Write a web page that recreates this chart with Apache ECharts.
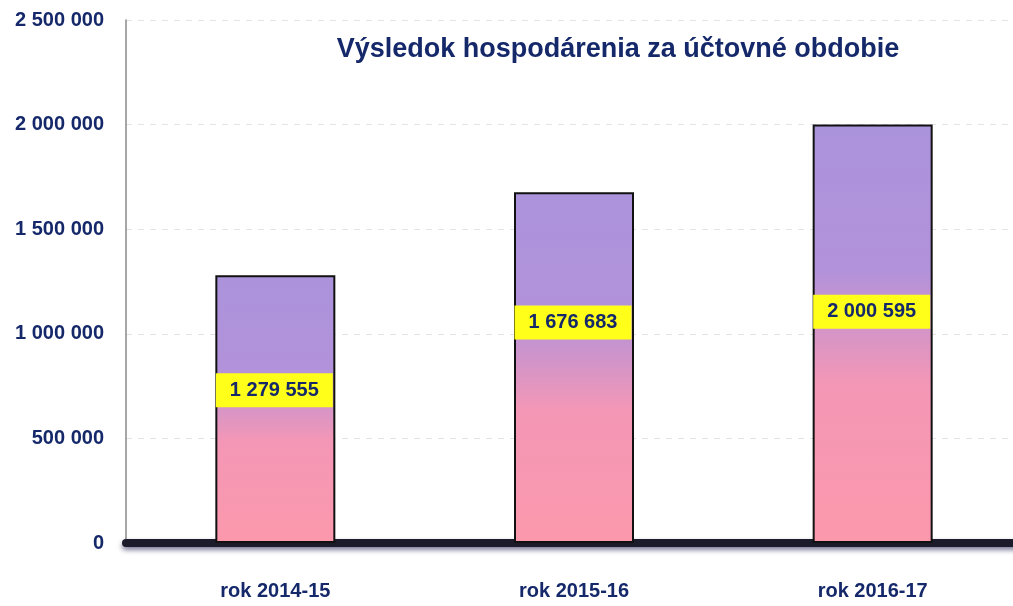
<!DOCTYPE html>
<html>
<head>
<meta charset="utf-8">
<script src="https://cdn.jsdelivr.net/npm/echarts@6/dist/echarts.min.js"></script>
<style>
  html, body { margin: 0; padding: 0; background: #fff; overflow: hidden; }
  #chart { width: 1022px; height: 606px; }
</style>
</head>
<body>
<div id="chart"></div>
<script>
const categories = ["rok 2014-15", "rok 2015-16", "rok 2016-17"];
const values = [1279555, 1676683, 2000595];
const yTicks = [0, 500000, 1000000, 1500000, 2000000, 2500000];
const title = "Výsledok hospodárenia za účtovné obdobie";

const navy = "#14286a";
// where the yellow value boxes sit relative to bar centre (as in the original)
const labelShift = [[-1, -19], [-1, -45], [-1, -22]];

function fmt(v) {
  return String(v).replace(/\B(?=(\d{3})+(?!\d))/g, " ");
}

const chart = echarts.init(document.getElementById("chart"));

chart.setOption({
  animation: false,
  title: {
    text: title,
    left: 613,
    top: 31,
    textAlign: "center",
    textStyle: {
      fontFamily: "Liberation Sans, Arial, sans-serif",
      fontSize: 27,
      fontWeight: "bold",
      color: navy
    }
  },
  grid: {
    left: 126,
    right: 0,
    top: 20,
    bottom: 63
  },
  xAxis: {
    type: "category",
    data: categories,
    offset: 4,
    axisTick: { show: false },
    axisLine: {
      lineStyle: {
        color: "#1b1b2b",
        width: 8,
        shadowColor: "rgba(40,40,90,0.6)",
        shadowBlur: 5,
        shadowOffsetY: 3
      }
    },
    axisLabel: {
      margin: 34,
      fontFamily: "Liberation Sans, Arial, sans-serif",
      fontSize: 20,
      fontWeight: "bold",
      color: navy
    }
  },
  yAxis: {
    type: "value",
    min: yTicks[0],
    max: yTicks[yTicks.length - 1],
    interval: yTicks[1] - yTicks[0],
    axisLine: {
      show: true,
      lineStyle: { color: "#8a8a8a", width: 1.5 }
    },
    axisTick: { show: false },
    splitLine: {
      lineStyle: { color: "#e4e4e4", type: [6, 6], width: 1 }
    },
    axisLabel: {
      margin: 22,
      fontFamily: "Liberation Sans, Arial, sans-serif",
      fontSize: 20,
      fontWeight: "bold",
      color: navy,
      formatter: (v) => fmt(v)
    }
  },
  series: [
    {
      type: "bar",
      barWidth: 120,
      data: values.map((v, i) => ({
        value: v,
        label: { offset: labelShift[i] }
      })),
      itemStyle: {
        color: new echarts.graphic.LinearGradient(0, 0, 0, 1, [
          { offset: 0, color: "#ab93dc" },
          { offset: 0.35, color: "#b292da" },
          { offset: 0.62, color: "#f497b6" },
          { offset: 1, color: "#fb98ac" }
        ]),
        borderColor: "#111",
        borderWidth: 2
      },
      label: {
        show: true,
        position: "inside",
        formatter: (p) => fmt(p.value),
        backgroundColor: "#ffff1a",
        padding: [7, 14],
        fontFamily: "Liberation Sans, Arial, sans-serif",
        fontSize: 20,
        fontWeight: "bold",
        color: navy
      }
    }
  ]
});
</script>
</body>
</html>
